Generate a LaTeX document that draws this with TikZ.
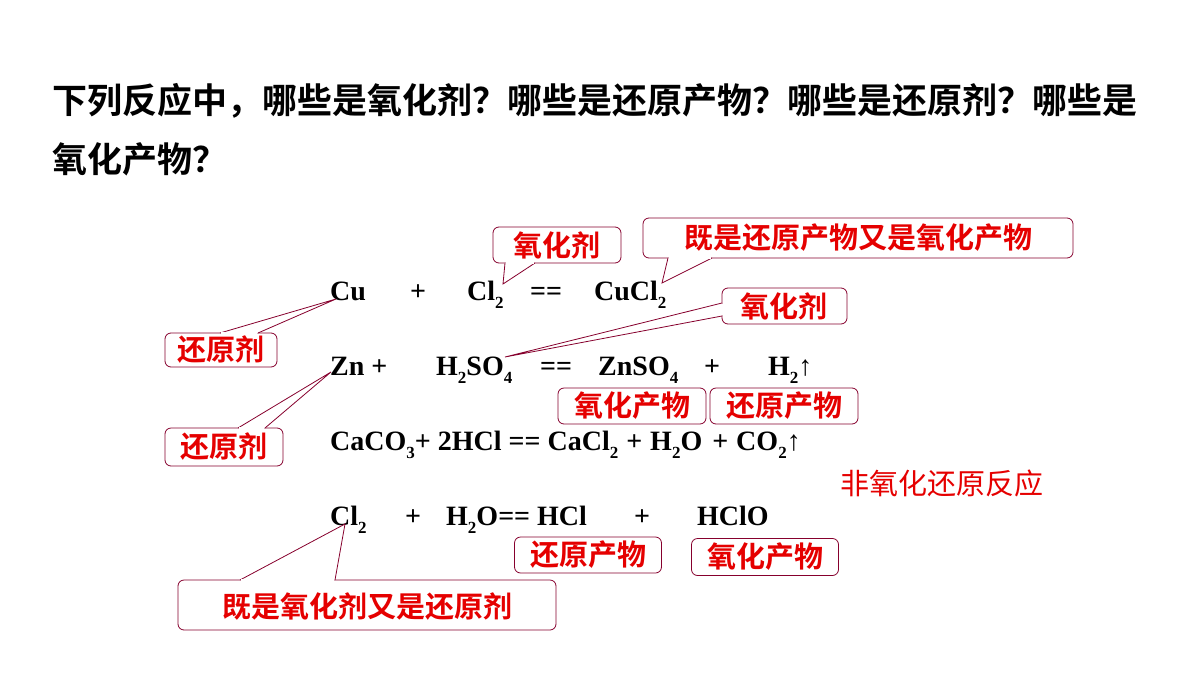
\documentclass[tikz,border=0pt]{standalone}
\usepackage{fontspec}
\setmainfont{Liberation Serif}
\newfontfamily\cjk{Noto Sans CJK SC}
\newfontfamily\cjkb{Noto Sans CJK SC Bold}
\newcommand{\sbs}[1]{\raisebox{-0.3em}{\fontsize{17}{17}\selectfont #1}}
\begin{document}
\begin{tikzpicture}[x=1pt,y=-1pt,
  fml/.style={anchor=base west,inner sep=0,font=\fontsize{28}{28}\selectfont\bfseries},
  lab/.style={inner sep=0,font=\cjkb\fontsize{29}{29}\selectfont,text=red!90!black},
  cbox/.style={draw=purple!70!black,fill=white,rounded corners=6pt,line width=0.8pt},
  cptr/.style={draw=purple!70!black,fill=white,line width=0.8pt,line join=miter}]
\useasboundingbox (0,0) rectangle (1200,675);
\node[anchor=base west,inner sep=0,font=\cjkb\fontsize{35}{35}\selectfont] (t1) at (52,113) {下列反应中，哪些是氧化剂？哪些是还原产物？哪些是还原剂？哪些是};
\node[anchor=base west,inner sep=0,font=\cjkb\fontsize{35}{35}\selectfont] (t2) at (52,172) {氧化产物？};
% formulas
\node[fml] (cu) at (330,300) {Cu};
\node[fml] (p1) at (410,300) {+};
\node[fml] (cl) at (467,300) {Cl\sbs{2}};
\node[fml] (e1) at (530,300) {==};
\node[fml] (cucl) at (594,300) {CuCl\sbs{2}};
\node[fml] (zn) at (330,375) {Zn +};
\node[fml] (hso) at (436,375) {H\sbs{2}SO\sbs{4}};
\node[fml] (e2) at (540,375) {==};
\node[fml] (znso) at (598,375) {ZnSO\sbs{4}};
\node[fml] (p2) at (704,375) {+};
\node[fml] (h2) at (768,375) {H\sbs{2}↑};
\node[fml] (caco) at (330,450) {CaCO\sbs{3}+ 2HCl == CaCl\sbs{2}\hspace{8pt}+\hspace{8pt}H\sbs{2}O\hspace{10pt}+\hspace{8pt}CO\sbs{2}↑};
\node[fml] (cl2) at (330,525) {Cl\sbs{2}};
\node[fml] (p3) at (405,525) {+};
\node[fml] (ho) at (446,525) {H\sbs{2}O== HCl};
\node[fml] (p4) at (634,525) {+};
\node[fml] (hclo) at (697,525) {HClO};
\node[anchor=center,inner sep=0,font=\cjk\fontsize{29}{29}\selectfont,text=red!90!black] (non) at (942,483) {非氧化还原反应};
% tips
\coordinate (k1) at (503,284);
\coordinate (k2) at (662,283);
\coordinate (k3) at (505,357);
\coordinate (k4) at (336,299);
\coordinate (k5) at (331,372);
\coordinate (k6) at (345,524);
% callout 1
\draw[cbox] (493,227) rectangle (621,263);
\draw[cptr] (505,263) -- (k1) -- (535,263);
\draw[white,line width=1.4pt] (506,263) -- (534,263);
\node[lab] (l1) at (557,245) {氧化剂};
% callout 2
\draw[cbox] (643,218) rectangle (1073,258);
\draw[cptr] (668,258) -- (k2) -- (712,258);
\draw[white,line width=1.4pt] (669,258) -- (711,258);
\node[lab] (l2) at (858,238) {既是还原产物又是氧化产物};
% callout 3
\draw[cbox] (722,288) rectangle (847,324);
\draw[cptr] (722,303) -- (k3) -- (722,316);
\draw[white,line width=1.4pt] (722,304) -- (722,315);
\node[lab] (l3) at (784,306) {氧化剂};
% callout 4
\draw[cbox] (165,333) rectangle (277,367);
\draw[cptr] (220,333) -- (k4) -- (258,333);
\draw[white,line width=1.4pt] (221,333) -- (257,333);
\node[lab] (l4) at (221,350) {还原剂};
% callout 5
\draw[cbox] (165,428) rectangle (283,466);
\draw[cptr] (238,428) -- (k5) -- (265,428);
\draw[white,line width=1.4pt] (239,428) -- (264,428);
\node[lab] (l5) at (224,447) {还原剂};
% plain boxes
\node[cbox,lab,minimum width=148,minimum height=36] (l6) at (632,406) {氧化产物};
\node[cbox,lab,minimum width=148,minimum height=36] (l7) at (784,406) {还原产物};
\node[cbox,lab,minimum width=147,minimum height=36] (l8) at (588,555) {还原产物};
\node[cbox,lab,minimum width=147,minimum height=37] (l9) at (765,557) {氧化产物};
% callout 6
\draw[cbox] (178,580) rectangle (556,630);
\draw[cptr] (240,580) -- (k6) -- (335,580);
\draw[white,line width=1.4pt] (241,580) -- (334,580);
\node[lab] (l10) at (367,607) {既是氧化剂又是还原剂};
\end{tikzpicture}
\end{document}
